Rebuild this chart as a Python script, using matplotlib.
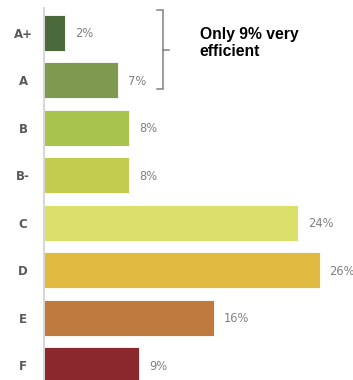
import matplotlib.pyplot as plt
from matplotlib.transforms import offset_copy

# energy label distribution
grades = ['A+', 'A', 'B', 'B-', 'C', 'D', 'E', 'F']
shares = [2, 7, 8, 8, 24, 26, 16, 9]
colors = ['#4b6a3b', '#7e9a4e', '#a9c34f', '#c4cc50', '#dbe06b', '#e1bb41', '#be7a3f', '#8b282d']

fig = plt.figure(figsize=(3.53, 3.8), dpi=100)
ax = fig.add_axes([0.1246, 0, 0.8754, 372 / 380])

pos = list(range(len(grades)))
ax.barh(pos, shares, height=0.76, color=colors, edgecolor='white', linewidth=0.6)

# value labels right of each bar
lbl_tr = offset_copy(ax.transData, fig=fig, x=10, y=-1, units='dots')
for p, v in zip(pos, shares):
    ax.text(v, p, f'{v}%', transform=lbl_tr, ha='left', va='center',
            fontsize=8.3, color='#808080')

ax.set_xlim(0, 29.15)
ax.set_ylim(7.316, -0.527)
ax.set_yticks(pos)
ax.set_yticklabels(grades, fontsize=8.5, fontweight='bold', color='#595959', ha='center')
ax.tick_params(axis='y', length=0, pad=15)
ax.set_xticks([])
for s in ['top', 'right', 'bottom']:
    ax.spines[s].set_visible(False)
ax.spines['left'].set_color('#d0d0d0')
ax.spines['left'].set_linewidth(1.2)

# bracket grouping the top two grades
bx = 11.2
ax.plot([bx - 0.55, bx, bx, bx - 0.55], [-0.485, -0.485, 1.18, 1.18],
        color='#808080', lw=1.1, solid_joinstyle='miter')
ax.plot([bx, bx + 0.6], [0.35, 0.35], color='#808080', lw=1.1)

ax.text(14.7, -0.13, 'Only 9% very\nefficient', ha='left', va='top',
        fontsize=11.3, fontweight='bold', color='black',
        family='Liberation Sans', linespacing=1.2)

fig.savefig('out.png', dpi=100)
